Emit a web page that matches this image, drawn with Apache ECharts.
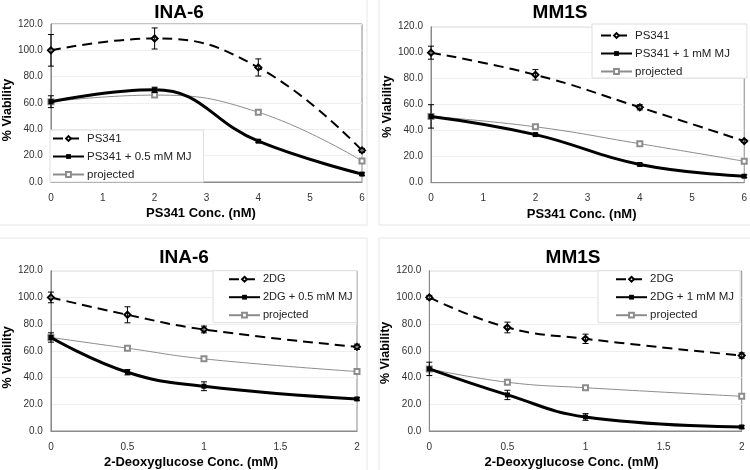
<!DOCTYPE html>
<html>
<head>
<meta charset="utf-8">
<script src="https://cdn.jsdelivr.net/npm/echarts@6/dist/echarts.min.js"></script>
<style>
  html, body { margin: 0; padding: 0; background: #fff; }
  #chart { width: 750px; height: 470px; }
</style>
</head>
<body>
<div id="chart"></div>
<script>
  // concentrations
  var ps341Conc = [0, 2, 4, 6]
  var dgConc = [0, 0.5, 1, 2]
  var yTicks = [0, 20, 40, 60, 80, 100, 120]

  // INA-6 / PS341
  var ina6Ps = [100, 109, 87, 24]
  var ina6PsErr = [12, 8, 6.5, 1.5]
  var ina6PsMJ = [61, 70, 31, 6]
  var ina6PsMJErr = [4.5, 2, 1, 1]
  var ina6PsProj = [61, 66, 53, 16]

  // MM1S / PS341
  var mm1sPs = [100, 83, 58, 32]
  var mm1sPsErr = [5, 4, 2, 1]
  var mm1sPsMJ = [51, 37, 14, 5]
  var mm1sPsMJErr = [9, 1, 1, 1]
  var mm1sPsProj = [51, 43, 30, 16.5]

  // INA-6 / 2DG
  var ina6Dg = [100, 87, 76, 63]
  var ina6DgErr = [4, 6, 2.5, 2]
  var ina6DgMJ = [70, 44, 33.5, 24]
  var ina6DgMJErr = [3.5, 2, 3.3, 1]
  var ina6DgProj = [70, 62, 54, 44.5]

  // MM1S / 2DG
  var mm1sDg = [100, 77.5, 69, 56.5]
  var mm1sDgErr = [1.5, 4, 3.5, 2]
  var mm1sDgMJ = [46.5, 27, 10.5, 3]
  var mm1sDgMJErr = [5, 3.5, 2.5, 1]
  var mm1sDgProj = [46.5, 36.5, 32.4, 26]

  var FONT = 'Liberation Sans, Arial, sans-serif'

  var panels = [
    {
      title: 'INA-6', titleX: 179, titleY: 3,
      grid: { left: 44, top: 24, width: 318, height: 158 },
      xName: 'PS341 Conc. (nM)', xShift: 11, xMax: 6, xStep: 1, yShift: 14, yGap: 31,
      conc: ps341Conc,
      names: ['PS341', 'PS341 + 0.5 mM MJ', 'projected'],
      alone: ina6Ps, aloneErr: ina6PsErr, mj: ina6PsMJ, mjErr: ina6PsMJErr, proj: ina6PsProj,
      legend: { left: 50, top: 130, padding: [2, 12, 1, 2] }
    },
    {
      title: 'MM1S', titleX: 560, titleY: 3,
      grid: { left: 431, top: 26.7, width: 315, height: 156 },
      xName: 'PS341 Conc. (nM)', xShift: 12, xMax: 6, xStep: 1, yShift: 4, yGap: 36,
      conc: ps341Conc,
      names: ['PS341', 'PS341 + 1 mM MJ', 'projected'],
      alone: mm1sPs, aloneErr: mm1sPsErr, mj: mm1sPsMJ, mjErr: mm1sPsMJErr, proj: mm1sPsProj,
      legend: { left: 592, top: 24, padding: [5, 17, 0, 8] }
    },
    {
      title: 'INA-6', titleX: 184, titleY: 248,
      grid: { left: 44, top: 270.7, width: 313, height: 160.3 },
      xName: '2-Deoxyglucose Conc. (mM)', xShift: 26, xMax: 2, xStep: 0.5, yShift: 13, yGap: 31,
      conc: dgConc,
      names: ['2DG', '2DG + 0.5 mM MJ', 'projected'],
      alone: ina6Dg, aloneErr: ina6DgErr, mj: ina6DgMJ, mjErr: ina6DgMJErr, proj: ina6DgProj,
      legend: { left: 213, top: 270.7, padding: [2, 4, 1, 15] }
    },
    {
      title: 'MM1S', titleX: 573, titleY: 248,
      grid: { left: 429.3, top: 270.7, width: 312.4, height: 161 },
      xName: '2-Deoxyglucose Conc. (mM)', xShift: 28, xMax: 2, xStep: 0.5, yShift: 4, yGap: 31,
      conc: dgConc,
      names: ['2DG', '2DG + 1 mM MJ', 'projected'],
      alone: mm1sDg, aloneErr: mm1sDgErr, mj: mm1sDgMJ, mjErr: mm1sDgMJErr, proj: mm1sDgProj,
      legend: { left: 598, top: 270.7, padding: [2, 6, 1, 17] }
    }
  ]

  function pairs (xs, ys) {
    return xs.map(function (x, i) { return [x, ys[i]] })
  }

  function triples (xs, ys, es) {
    return xs.map(function (x, i) { return [x, ys[i], es[i]] })
  }

  // error bar: vertical stroke with small caps
  function renderErr (params, api) {
    var x = api.value(0)
    var y = api.value(1)
    var e = api.value(2)
    var top = api.coord([x, y + e])
    var bot = api.coord([x, y - e])
    var hw = 3
    var st = { stroke: '#000', lineWidth: 1 }
    return {
      type: 'group',
      children: [
        { type: 'line', shape: { x1: top[0], y1: top[1], x2: bot[0], y2: bot[1] }, style: st },
        { type: 'line', shape: { x1: top[0] - hw, y1: top[1], x2: top[0] + hw, y2: top[1] }, style: st },
        { type: 'line', shape: { x1: bot[0] - hw, y1: bot[1], x2: bot[0] + hw, y2: bot[1] }, style: st }
      ]
    }
  }

  var option = {
    backgroundColor: '#fff',
    animation: false,
    textStyle: { fontFamily: FONT },
    title: [],
    grid: [],
    xAxis: [],
    yAxis: [],
    legend: [],
    series: [],
    graphic: [
      // faint frames round each of the four charts
      { type: 'rect', shape: { x: -1, y: -1, width: 368, height: 226 }, style: { fill: 'none', stroke: '#e6e6e6' } },
      { type: 'rect', shape: { x: 379, y: -1, width: 372, height: 226 }, style: { fill: 'none', stroke: '#e6e6e6' } },
      { type: 'rect', shape: { x: -1, y: 238, width: 368, height: 233 }, style: { fill: 'none', stroke: '#e6e6e6' } },
      { type: 'rect', shape: { x: 379, y: 238, width: 372, height: 233 }, style: { fill: 'none', stroke: '#e6e6e6' } }
    ]
  }

  panels.forEach(function (p, i) {
    option.title.push({
      text: p.title,
      left: p.titleX,
      top: p.titleY,
      textAlign: 'center',
      padding: 0,
      textStyle: { fontFamily: FONT, fontSize: 19, fontWeight: 'bold', color: '#000' }
    })

    option.grid.push({
      left: p.grid.left, top: p.grid.top, width: p.grid.width, height: p.grid.height,
      show: true, borderColor: '#8a8a8a', borderWidth: 1, backgroundColor: '#fff'
    })

    option.xAxis.push({
      gridIndex: i,
      type: 'value',
      min: 0,
      max: p.xMax,
      interval: p.xStep,
      name: p.xName,
      nameLocation: 'middle',
      nameGap: 25,
      nameTextStyle: { fontFamily: FONT, fontSize: 13, fontWeight: 'bold', color: '#000', padding: [0, p.xShift, 0, 0] },
      axisLine: { show: true, lineStyle: { color: '#8a8a8a', width: 1 } },
      axisTick: { show: false },
      splitLine: { show: false },
      axisLabel: { fontFamily: FONT, fontSize: 10, color: '#333', margin: 11 }
    })

    option.yAxis.push({
      gridIndex: i,
      type: 'value',
      min: yTicks[0],
      max: yTicks[yTicks.length - 1],
      interval: yTicks[1] - yTicks[0],
      name: '% Viability',
      nameLocation: 'middle',
      nameGap: p.yGap,
      nameTextStyle: { fontFamily: FONT, fontSize: 12.5, fontWeight: 'bold', color: '#000', padding: [0, p.yShift, 0, 0] },
      axisLine: { show: true, lineStyle: { color: '#8a8a8a', width: 1 } },
      axisTick: { show: false },
      splitLine: { show: true, lineStyle: { color: '#efefef', width: 1 } },
      axisLabel: {
        fontFamily: FONT, fontSize: 10, color: '#333', margin: 8,
        formatter: function (v) { return v.toFixed(1) }
      }
    })

    option.legend.push({
      data: p.names,
      orient: 'vertical',
      left: p.legend.left,
      top: p.legend.top,
      padding: p.legend.padding,
      itemWidth: 31,
      itemHeight: 6,
      itemGap: 5,
      backgroundColor: '#fff',
      borderColor: '#dedede',
      borderWidth: 1,
      selectedMode: false,
      textStyle: { fontFamily: FONT, fontSize: i === 2 ? 11 : 11.5, color: '#222', lineHeight: 13, padding: [0, 0, 0, -2] }
    })

    option.series.push({
      name: p.names[0],
      type: 'line',
      xAxisIndex: i,
      yAxisIndex: i,
      smooth: 0.45,
      data: pairs(p.conc, p.alone),
      symbol: 'emptyDiamond',
      symbolSize: 6,
      itemStyle: { color: '#000', borderWidth: 1 },
      lineStyle: { color: '#000', width: 2, type: [10, 6] },
      z: 3
    })
    option.series.push({
      name: p.names[1],
      type: 'line',
      xAxisIndex: i,
      yAxisIndex: i,
      smooth: 0.45,
      data: pairs(p.conc, p.mj),
      symbol: 'rect',
      symbolSize: 5,
      itemStyle: { color: '#000' },
      lineStyle: { color: '#000', width: 3 },
      z: 3
    })
    option.series.push({
      name: p.names[2],
      type: 'line',
      xAxisIndex: i,
      yAxisIndex: i,
      smooth: 0.45,
      data: pairs(p.conc, p.proj),
      symbol: 'emptyRect',
      symbolSize: 5,
      itemStyle: { color: '#8c8c8c', borderWidth: 1 },
      lineStyle: { color: '#8c8c8c', width: 1 },
      z: 2
    })
    option.series.push({
      name: 'err-a-' + i,
      type: 'custom',
      xAxisIndex: i,
      yAxisIndex: i,
      renderItem: renderErr,
      data: triples(p.conc, p.alone, p.aloneErr),
      z: 4
    })
    option.series.push({
      name: 'err-b-' + i,
      type: 'custom',
      xAxisIndex: i,
      yAxisIndex: i,
      renderItem: renderErr,
      data: triples(p.conc, p.mj, p.mjErr),
      z: 4
    })
  })

  var chart = echarts.init(document.getElementById('chart'), null, { renderer: 'canvas' })
  chart.setOption(option)
</script>
</body>
</html>
